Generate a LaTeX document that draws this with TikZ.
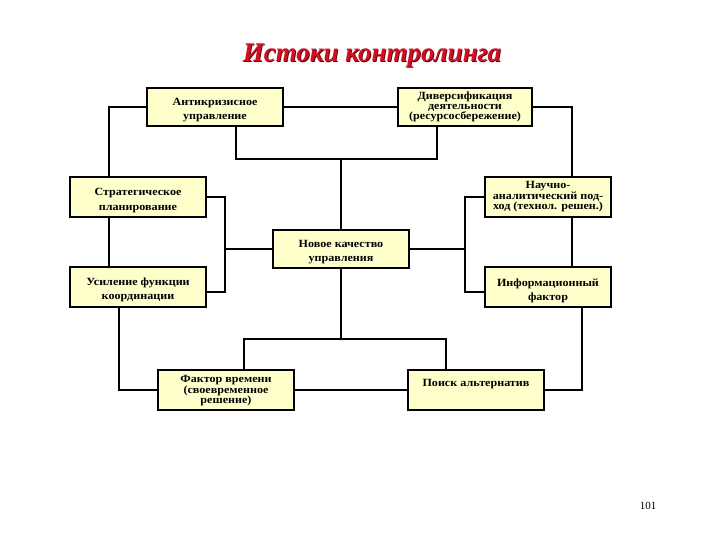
\documentclass[tikz,border=0pt]{standalone}
\usepackage{fontspec}
\setmainfont{Liberation Serif}
\newfontfamily\boxfont[FakeStretch=1.1]{Liberation Serif}
\newfontfamily\titlefont{Liberation Serif}
\definecolor{boxyellow}{RGB}{255,255,204}
\definecolor{titlered}{RGB}{210,14,34}
\definecolor{titleshadow}{RGB}{90,0,10}
\begin{document}
\begin{tikzpicture}[x=1pt,y=-1pt,
  box/.style={draw=black, line width=2pt, fill=boxyellow, inner sep=0pt},
  wire/.style={line width=2pt, draw=black},
  tx/.style={align=center, inner sep=0pt, text=black, font=\boxfont\bfseries\fontsize{11}{#1}\selectfont}]
\useasboundingbox (0,0) rectangle (720,540);

% title
\node[font=\titlefont\bfseries\itshape\fontsize{27}{30}\selectfont, text=titleshadow] (T0) at (372.8,56.8) {Истоки контролинга};
\node[font=\titlefont\bfseries\itshape\fontsize{27}{30}\selectfont, text=titlered] (T) at (372,56) {Истоки контролинга};

% boxes
\node[box, minimum width=136pt, minimum height=38pt] (A) at (215,107) {};
\node[box, minimum width=134pt, minimum height=38pt] (D) at (465,107) {};
\node[box, minimum width=136pt, minimum height=40pt] (S) at (138,197) {};
\node[box, minimum width=126pt, minimum height=40pt] (N) at (548,197) {};
\node[box, minimum width=136pt, minimum height=38pt] (Q) at (341,249) {};
\node[box, minimum width=136pt, minimum height=40pt] (U) at (138,287) {};
\node[box, minimum width=126pt, minimum height=40pt] (I) at (548,287) {};
\node[box, minimum width=136pt, minimum height=40pt] (F) at (226,390) {};
\node[box, minimum width=136pt, minimum height=40pt] (P) at (476,390) {};

% box texts
\node[tx=14] (At) at ([yshift=-3.5pt]A.center) {Антикризисное\\управление};
\node[tx=10] (Dt) at ([yshift=0.5pt]D.center) {Диверсификация\\деятельности\\(ресурсосбережение)};
\node[tx=15] (St) at ([yshift=-3.5pt]S.center) {Стратегическое\\планирование};
\node[tx=9.2] (Nt) at ([yshift=0.5pt]N.center) {Научно-\\аналитический под-\\ход (технол. решен.)};
\node[tx=14] (Qt) at ([yshift=-3.5pt]Q.center) {Новое качество\\управления};
\node[tx=14] (Ut) at ([yshift=-3pt]U.center) {Усиление функции\\координации};
\node[tx=14] (It) at ([yshift=-3.5pt]I.center) {Информационный\\фактор};
\node[tx=10.5] (Ft) at ([yshift=-1pt]F.center) {Фактор времени\\(своевременное\\решение)};
\node[tx=12] (Pt) at (476,384) {Поиск альтернатив};

% page number
\node[font=\fontsize{11}{12}\selectfont] (pg) at (648,506) {101};

% helper coordinates
\coordinate (xL) at (109,0);
\coordinate (xR) at (572,0);
\coordinate (xBL) at (225,0);
\coordinate (xBR) at (465,0);
\coordinate (xUL) at (119,0);
\coordinate (xIR) at (582,0);
\coordinate (xA) at (236,0);
\coordinate (xD) at (437,0);
\coordinate (xF) at (244,0);
\coordinate (xP) at (446,0);
\coordinate (yU) at (0,292);
\coordinate (ub) at (341,159);
\coordinate (lb) at (341,339);

% connectors
\draw[wire] (A.west) -| (S.north -| xL);
\draw[wire] (A.east) -- (D.west);
\draw[wire] (D.east) -| (N.north -| xR);
\draw[wire] (A.south -| xA) -- (xA |- ub) -- (xD |- ub) -- (D.south -| xD);
\draw[wire] (Q.north) -- (ub);
\draw[wire] (S.south -| xL) -- (U.north -| xL);
\draw[wire] (N.south -| xR) -- (I.north -| xR);
\draw[wire] (S.east) -| (xBL |- yU) -- (U.east |- yU);
\draw[wire] (Q.west) -- (Q.west -| xBL);
\draw[wire] (N.west) -| (xBR |- yU) -- (I.west |- yU);
\draw[wire] (Q.east) -- (Q.east -| xBR);
\draw[wire] (Q.south) -- (lb);
\draw[wire] (F.north -| xF) -- (xF |- lb) -- (xP |- lb) -- (P.north -| xP);
\draw[wire] (U.south -| xUL) |- (F.west);
\draw[wire] (F.east) -- (P.west);
\draw[wire] (I.south -| xIR) |- (P.east);
\end{tikzpicture}
\end{document}
